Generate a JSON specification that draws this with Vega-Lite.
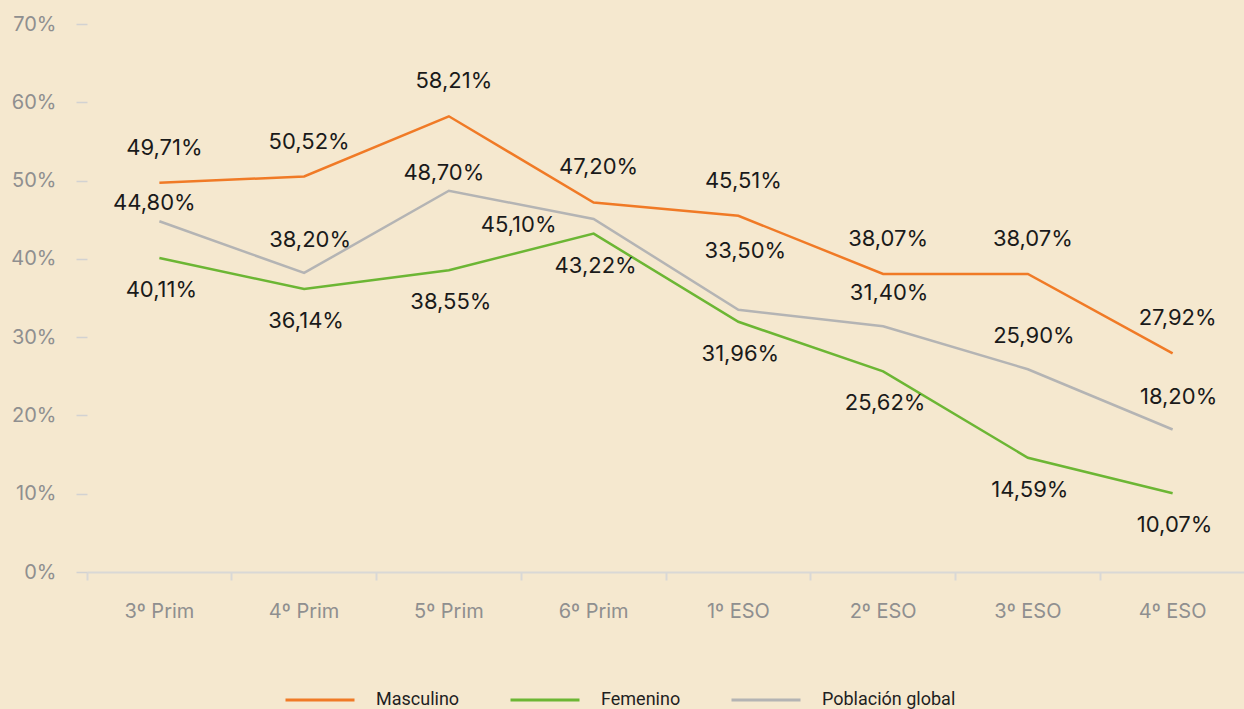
{
  "$schema": "https://vega.github.io/schema/vega-lite/v6.json",
  "width": 1158,
  "height": 548,
  "padding": {"left": 10, "top": 14, "right": 0, "bottom": 0},
  "background": "#f5e8cf",
  "config": {
    "view": {"stroke": null},
    "font": "Inter",
    "locale": {"number": {"decimal": ",", "thousands": ".", "grouping": [3], "currency": ["", " €"]}}
  },
  "data": {
    "values": [
      {"curso": "3º Prim", "serie": "Masculino", "valor": 0.4971},
      {"curso": "4º Prim", "serie": "Masculino", "valor": 0.5052},
      {"curso": "5º Prim", "serie": "Masculino", "valor": 0.5821},
      {"curso": "6º Prim", "serie": "Masculino", "valor": 0.4720},
      {"curso": "1º ESO", "serie": "Masculino", "valor": 0.4551},
      {"curso": "2º ESO", "serie": "Masculino", "valor": 0.3807},
      {"curso": "3º ESO", "serie": "Masculino", "valor": 0.3807},
      {"curso": "4º ESO", "serie": "Masculino", "valor": 0.2792},
      {"curso": "3º Prim", "serie": "Femenino", "valor": 0.4011},
      {"curso": "4º Prim", "serie": "Femenino", "valor": 0.3614},
      {"curso": "5º Prim", "serie": "Femenino", "valor": 0.3855},
      {"curso": "6º Prim", "serie": "Femenino", "valor": 0.4322},
      {"curso": "1º ESO", "serie": "Femenino", "valor": 0.3196},
      {"curso": "2º ESO", "serie": "Femenino", "valor": 0.2562},
      {"curso": "3º ESO", "serie": "Femenino", "valor": 0.1459},
      {"curso": "4º ESO", "serie": "Femenino", "valor": 0.1007},
      {"curso": "3º Prim", "serie": "Población global", "valor": 0.4480},
      {"curso": "4º Prim", "serie": "Población global", "valor": 0.3820},
      {"curso": "5º Prim", "serie": "Población global", "valor": 0.4870},
      {"curso": "6º Prim", "serie": "Población global", "valor": 0.4510},
      {"curso": "1º ESO", "serie": "Población global", "valor": 0.3350},
      {"curso": "2º ESO", "serie": "Población global", "valor": 0.3140},
      {"curso": "3º ESO", "serie": "Población global", "valor": 0.2590},
      {"curso": "4º ESO", "serie": "Población global", "valor": 0.1820}
    ]
  },
  "encoding": {
    "x": {
      "field": "curso", "type": "nominal", "sort": null,
      "scale": {"type": "band", "paddingInner": 0, "paddingOuter": 0},
      "axis": {
        "title": null, "labelAngle": 0, "labelFont": "Inter", "labelFontSize": 20,
        "labelColor": "#8f8f8f", "labelPadding": 21, "domainColor": "#d9d8d6",
        "domainWidth": 2, "tickColor": "#d9d8d6", "tickWidth": 2, "tickSize": 8,
        "bandPosition": 0, "grid": false
      }
    },
    "y": {
      "field": "valor", "type": "quantitative",
      "scale": {"domain": [0, 0.7]},
      "axis": {
        "title": null, "format": ".0%", "values": [0, 0.1, 0.2, 0.3, 0.4, 0.5, 0.6, 0.7],
        "labelOverlap": false, "labelFlush": false,
        "labelFont": "Inter", "labelFontSize": 20, "labelColor": "#8f8f8f",
        "labelPadding": 20, "tickSize": 11, "tickColor": "#d2d2d2", "tickWidth": 1.5,
        "domain": false, "grid": false
      }
    }
  },
  "layer": [
    {
      "mark": {"type": "line", "strokeWidth": 2.5},
      "encoding": {
        "color": {
          "field": "serie", "type": "nominal",
          "scale": {"domain": ["Masculino", "Femenino", "Población global"], "range": ["#f07a26", "#6cb634", "#b4b4b4"]},
          "legend": {
            "title": null, "orient": "none", "legendX": 197, "legendY": 640, "direction": "horizontal",
            "symbolType": "stroke", "symbolSize": 4761, "symbolStrokeWidth": 3,
            "labelFont": "Roboto", "labelFontSize": 18, "labelColor": "#1f1f1f",
            "labelOffset": 20, "columnPadding": 44
          }
        }
      }
    },
    {
      "transform": [{"filter": "datum.serie === 'Masculino'"}],
      "mark": {"type": "text", "fontSize": 22, "color": "#1a1a1a", "dy": -35, "dx": 5, "baseline": "middle"},
      "encoding": {"text": {"field": "valor", "type": "quantitative", "format": ".2%"}}
    },
    {
      "transform": [{"filter": "datum.serie === 'Femenino'"}],
      "mark": {"type": "text", "fontSize": 22, "color": "#1a1a1a", "dy": 32, "dx": 2, "baseline": "middle"},
      "encoding": {"text": {"field": "valor", "type": "quantitative", "format": ".2%"}}
    },
    {
      "transform": [{"filter": "datum.serie === 'Población global' && indexof(['4º Prim', '2º ESO', '3º ESO', '4º ESO'], datum.curso) >= 0"}],
      "mark": {"type": "text", "fontSize": 22, "color": "#1a1a1a", "dy": -33, "dx": 6, "baseline": "middle"},
      "encoding": {"text": {"field": "valor", "type": "quantitative", "format": ".2%"}}
    },
    {
      "transform": [{"filter": "datum.serie === 'Población global' && indexof(['3º Prim', '5º Prim'], datum.curso) >= 0"}],
      "mark": {"type": "text", "fontSize": 22, "color": "#1a1a1a", "dy": -18, "dx": -5, "baseline": "middle"},
      "encoding": {"text": {"field": "valor", "type": "quantitative", "format": ".2%"}}
    },
    {
      "transform": [{"filter": "datum.serie === 'Población global' && datum.curso === '6º Prim'"}],
      "mark": {"type": "text", "fontSize": 22, "color": "#1a1a1a", "dy": 6, "dx": -75, "baseline": "middle"},
      "encoding": {"text": {"field": "valor", "type": "quantitative", "format": ".2%"}}
    },
    {
      "transform": [{"filter": "datum.serie === 'Población global' && datum.curso === '1º ESO'"}],
      "mark": {"type": "text", "fontSize": 22, "color": "#1a1a1a", "dy": -59, "dx": 7, "baseline": "middle"},
      "encoding": {"text": {"field": "valor", "type": "quantitative", "format": ".2%"}}
    }
  ]
}
